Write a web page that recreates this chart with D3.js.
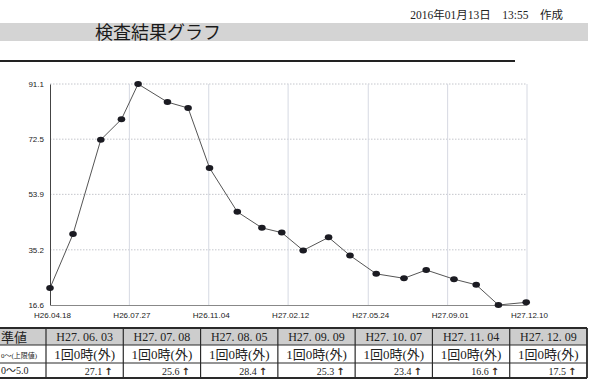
<!DOCTYPE html>
<html>
<head>
<meta charset="utf-8">
<script src="https://cdn.jsdelivr.net/npm/d3@7"></script>
<style>
  body{margin:0;background:#fff;}
  svg{display:block;}
</style>
</head>
<body>
<script>
// values
const sampleDates=["2014-04-18","2014-05-17","2014-06-21","2014-07-17","2014-08-07","2014-09-13","2014-10-09",
  "2014-11-05","2014-12-10","2015-01-10","2015-02-04","2015-03-03","2015-04-04","2015-05-01",
  "2015-06-03","2015-07-08","2015-08-05","2015-09-09","2015-10-07","2015-11-04","2015-12-09"];
const sampleValues=[22.3,40.5,72.3,79.2,91.1,85.0,83.0,62.8,48.0,42.6,41.0,35.0,39.4,33.3,27.1,25.6,28.4,25.3,23.4,16.6,17.5];

const yTicks=[16.6,35.2,53.9,72.5,91.1];
const xTickDates=["2014-04-18","2014-07-27","2014-11-04","2015-02-12","2015-05-24","2015-09-01","2015-12-10"];
const xTickLabels=["H26.04.18","H26.07.27","H26.11.04","H27.02.12","H27.05.24","H27.09.01","H27.12.10"];

const tableDates=["H27. 06. 03","H27. 07. 08","H27. 08. 05","H27. 09. 09","H27. 10. 07","H27. 11. 04","H27. 12. 09"];
const tableCond=["1回0時(外)","1回0時(外)","1回0時(外)","1回0時(外)","1回0時(外)","1回0時(外)","1回0時(外)"];
const tableValues=[27.1,25.6,28.4,25.3,23.4,16.6,17.5];
const firstCol=["準値","0～(上限値)","0～5.0"];

const titleText="検査結果グラフ";
const stampText="2016年01月13日　13:55　作成";

const W=600,H=385;
const parse=d3.timeParse("%Y-%m-%d");
const points=sampleDates.map((d,i)=>({date:parse(d),value:sampleValues[i]}));

const svg=d3.select('body').append('svg').attr('width',W).attr('height',H);

// ---- header ----
svg.append('text').attr('x',563).attr('y',19).attr('text-anchor','end')
  .style('font-family','"Liberation Serif","Noto Sans CJK JP"').style('font-size','11.5px').attr('fill','#222')
  .text(stampText);
svg.append('rect').attr('x',0).attr('y',23).attr('width',588).attr('height',18).attr('fill','#d4d4d4');
svg.append('text').attr('x',95).attr('y',38.5)
  .style('font-family','"Noto Sans CJK JP"').style('font-size','18px').attr('fill','#1a1a1a')
  .text(titleText);
svg.append('line').attr('x1',0).attr('x2',515).attr('y1',61).attr('y2',61)
  .attr('stroke','#222').attr('stroke-width',1.8);

// ---- chart ----
const x=d3.scaleTime().domain([parse(xTickDates[0]),parse(xTickDates[xTickDates.length-1])]).range([50,527]);
const y=d3.scaleLinear().domain([yTicks[0],yTicks[yTicks.length-1]]).range([305,84]);

// grid
svg.append('g').selectAll('line').data(yTicks.slice(1)).enter().append('line')
  .attr('x1',50).attr('x2',527).attr('y1',d=>y(d)).attr('y2',d=>y(d))
  .attr('stroke','#c4c6cc').attr('stroke-dasharray','1.5,1.5');
svg.append('g').selectAll('line').data(xTickDates.slice(1)).enter().append('line')
  .attr('x1',d=>x(parse(d))).attr('x2',d=>x(parse(d))).attr('y1',84).attr('y2',305)
  .attr('stroke','#d6d9e2');

// axes
const yAxis=svg.append('g').attr('transform','translate(50,0)')
  .call(d3.axisLeft(y).tickValues(yTicks).tickSize(0).tickPadding(6).tickFormat(d3.format('.1f')));
yAxis.select('.domain').attr('stroke','#444');
yAxis.selectAll('text').style('font-family','"Liberation Sans"').style('font-size','8px').attr('fill','#222');

const xAxis=svg.append('g').attr('transform','translate(0,305)')
  .call(d3.axisBottom(x).tickValues(xTickDates.map(parse)).tickSize(0).tickPadding(7)
    .tickFormat((d,i)=>xTickLabels[i]));
xAxis.select('.domain').attr('stroke','#888');
xAxis.selectAll('text').style('font-family','"Liberation Sans"').style('font-size','8px').attr('fill','#222')
  .attr('dx',2).attr('textLength',37).attr('lengthAdjust','spacingAndGlyphs');

// series
const line=d3.line().x(d=>x(d.date)).y(d=>y(d.value));
svg.append('path').datum(points).attr('d',line).attr('fill','none').attr('stroke','#555').attr('stroke-width',1);
svg.append('g').selectAll('ellipse').data(points).enter().append('ellipse')
  .attr('cx',d=>x(d.date)).attr('cy',d=>y(d.value)).attr('rx',3.8).attr('ry',3)
  .attr('fill','#1b1b22');

// ---- table ----
const col=d3.scaleLinear().domain([0,tableDates.length]).range([46,587]);
const rows=[328,345,363,378];
const serif='"Liberation Serif","Noto Sans CJK JP"';

svg.append('rect').attr('x',0).attr('y',rows[0]).attr('width',587).attr('height',rows[1]-rows[0]).attr('fill','#cdcdcd');

const tbl=svg.append('g');
tbl.selectAll('line.h').data(rows).enter().append('line').attr('class','h')
  .attr('x1',0).attr('x2',587).attr('y1',d=>d).attr('y2',d=>d)
  .attr('stroke','#2a2a2a').attr('stroke-width',(d,i)=>i==0||i==3?1.8:1.2);
tbl.selectAll('line.v').data(d3.range(tableDates.length+1)).enter().append('line').attr('class','v')
  .attr('x1',d=>col(d)).attr('x2',d=>col(d)).attr('y1',rows[0]).attr('y2',rows[3])
  .attr('stroke','#2a2a2a').attr('stroke-width',(d,i)=>i==tableDates.length?1.8:1.2);

// first column (the sheet is cut at the left edge)
tbl.selectAll('text.f').data(firstCol).enter().append('text').attr('class','f')
  .attr('x',1).attr('y',(d,i)=>[342,357.5,374][i])
  .style('font-family',serif).style('font-size',(d,i)=>['13px','7px','10px'][i]).attr('fill','#222').text(d=>d);

const mid=i=>(col(i)+col(i+1))/2;
tbl.selectAll('text.d').data(tableDates).enter().append('text').attr('class','d')
  .attr('x',(d,i)=>mid(i)).attr('y',341).attr('text-anchor','middle')
  .style('font-family',serif).style('font-size','12px').attr('fill','#222').text(d=>d);
tbl.selectAll('text.c').data(tableCond).enter().append('text').attr('class','c')
  .attr('x',(d,i)=>mid(i)).attr('y',359).attr('text-anchor','middle')
  .style('font-family',serif).style('font-size','13px').attr('fill','#222').text(d=>d);
tbl.selectAll('text.v').data(tableValues).enter().append('text').attr('class','v')
  .attr('x',(d,i)=>col(i+1)-21).attr('y',374.5).attr('text-anchor','end')
  .style('font-family',serif).style('font-size','10px').attr('fill','#222').text(d=>d.toFixed(1));
tbl.selectAll('text.a').data(tableValues).enter().append('text').attr('class','a')
  .attr('x',(d,i)=>col(i+1)-19).attr('y',375).style('font-family','"DejaVu Sans"').style('font-weight','bold')
  .style('font-size','10px').attr('fill','#3a2a1a').text('↑');
</script>
</body>
</html>
